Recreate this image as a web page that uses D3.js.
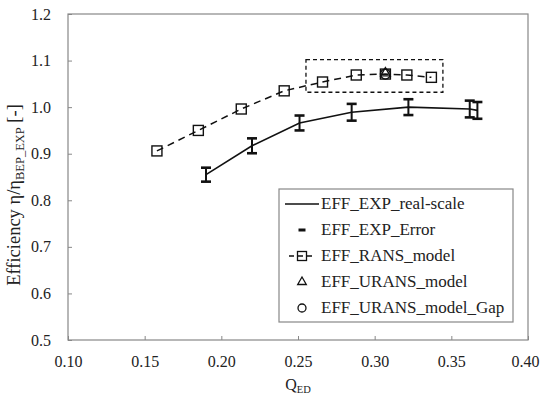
<!DOCTYPE html>
<html>
<head>
<meta charset="utf-8">
<script src="https://cdn.jsdelivr.net/npm/d3@7.9.0/dist/d3.min.js"></script>
<style>
  body { margin: 0; background: #fff; }
</style>
</head>
<body>
<div id="chart"></div>
<script>
// experiment (real scale) with error bars
const expQ = [0.190, 0.220, 0.251, 0.285, 0.322, 0.362, 0.367];
const expEff = [0.855, 0.917, 0.966, 0.989, 1.000, 0.996, 0.993];
const expErr = [0.015, 0.016, 0.016, 0.018, 0.017, 0.018, 0.018];

// RANS model
const ransQ = [0.158, 0.185, 0.213, 0.241, 0.266, 0.288, 0.307, 0.321, 0.337];
const ransEff = [0.906, 0.950, 0.996, 1.035, 1.054, 1.069, 1.071, 1.069, 1.064];

// URANS single points
const uransQ = [0.307];
const uransEff = [1.071];
const gapQ = [0.307];
const gapEff = [1.071];

// dashed highlight box (data units)
const boxQ = [0.2552, 0.3445];
const boxEff = [1.032, 1.102];

const xTicks = [0.10, 0.15, 0.20, 0.25, 0.30, 0.35, 0.40];
const yTicks = [0.5, 0.6, 0.7, 0.8, 0.9, 1.0, 1.1, 1.2];

const legendLabels = ["EFF_EXP_real-scale", "EFF_EXP_Error", "EFF_RANS_model", "EFF_URANS_model", "EFF_URANS_model_Gap"];

const width = 540, height = 397;
const margin = { top: 14, right: 12, bottom: 57, left: 68 };
const serif = "Liberation Serif";

const svg = d3.select("#chart").append("svg")
  .attr("width", width)
  .attr("height", height)
  .attr("font-family", serif);

const x = d3.scaleLinear().domain([0.1, 0.4]).range([margin.left, width - margin.right]);
const y = d3.scaleLinear().domain([0.5, 1.2]).range([height - margin.bottom, margin.top]);

const axisColor = "#888";
const textColor = "#222";

// axes (ticks point inward)
const gx = svg.append("g")
  .attr("transform", `translate(0,${y(0.5)})`)
  .call(d3.axisBottom(x).tickValues(xTicks).tickSizeInner(-4).tickSizeOuter(0).tickPadding(16).tickFormat(d3.format(".2f")));
const gy = svg.append("g")
  .attr("transform", `translate(${x(0.1)},0)`)
  .call(d3.axisLeft(y).tickValues(yTicks).tickSizeInner(-4).tickSizeOuter(0).tickPadding(17).tickFormat(d3.format(".1f")));

[gx, gy].forEach(g => {
  g.attr("font-family", serif).attr("font-size", 16);
  g.select(".domain").remove();
  g.selectAll("line").attr("stroke", axisColor);
  g.selectAll("text").attr("fill", textColor).attr("font-family", serif);
});
// last x label sits on the right edge, keep it inside
gx.selectAll(".tick text").filter(d => d === 0.40).attr("dx", -3);

// frame
svg.append("rect")
  .attr("x", x(0.1)).attr("y", y(1.2))
  .attr("width", x(0.4) - x(0.1)).attr("height", y(0.5) - y(1.2))
  .attr("fill", "none").attr("stroke", axisColor).attr("stroke-width", 1.2);

// dashed highlight box
svg.append("rect")
  .attr("x", x(boxQ[0])).attr("y", y(boxEff[1]))
  .attr("width", x(boxQ[1]) - x(boxQ[0])).attr("height", y(boxEff[0]) - y(boxEff[1]))
  .attr("fill", "none").attr("stroke", "#111").attr("stroke-width", 1.3)
  .attr("stroke-dasharray", "4,3");

// RANS dashed line + square markers
const ransData = ransQ.map((q, i) => ({ q, e: ransEff[i] }));
svg.append("path")
  .datum(ransData)
  .attr("fill", "none").attr("stroke", "#111").attr("stroke-width", 1.5)
  .attr("stroke-dasharray", "7,5")
  .attr("d", d3.line().x(d => x(d.q)).y(d => y(d.e)));

const sq = 10;
svg.append("g").selectAll("rect")
  .data(ransData)
  .join("rect")
  .attr("x", d => x(d.q) - sq / 2).attr("y", d => y(d.e) - sq / 2)
  .attr("width", sq).attr("height", sq)
  .attr("fill", "none").attr("stroke", "#111").attr("stroke-width", 1.4);

// URANS triangle + gap circle
const triangle = d3.symbol().type(d3.symbolTriangle).size(40);
svg.append("g").selectAll("path")
  .data(uransQ.map((q, i) => ({ q, e: uransEff[i] })))
  .join("path")
  .attr("transform", d => `translate(${x(d.q)},${y(d.e) - 1})`)
  .attr("d", triangle)
  .attr("fill", "none").attr("stroke", "#111").attr("stroke-width", 1.4);
svg.append("g").selectAll("circle")
  .data(gapQ.map((q, i) => ({ q, e: gapEff[i] })))
  .join("circle")
  .attr("cx", d => x(d.q)).attr("cy", d => y(d.e)).attr("r", 5)
  .attr("fill", "none").attr("stroke", "#111").attr("stroke-width", 1.4);

// experiment solid line + error bars
const expData = expQ.map((q, i) => ({ q, e: expEff[i], err: expErr[i] }));
svg.append("path")
  .datum(expData)
  .attr("fill", "none").attr("stroke", "#111").attr("stroke-width", 1.6)
  .attr("d", d3.line().x(d => x(d.q)).y(d => y(d.e)));

const bars = svg.append("g").attr("stroke", "#111");
const cap = 5;
expData.forEach(d => {
  bars.append("line")
    .attr("x1", x(d.q)).attr("x2", x(d.q))
    .attr("y1", y(d.e - d.err)).attr("y2", y(d.e + d.err))
    .attr("stroke-width", 2);
  [d.e - d.err, d.e + d.err].forEach(v => {
    bars.append("line")
      .attr("x1", x(d.q) - cap).attr("x2", x(d.q) + cap)
      .attr("y1", y(v)).attr("y2", y(v))
      .attr("stroke-width", 2.6);
  });
});

// axis titles
const yTitle = svg.append("text")
  .attr("transform", "translate(20,195) rotate(-90)")
  .attr("text-anchor", "middle")
  .attr("fill", textColor)
  .attr("font-family", serif)
  .attr("font-size", 18.5);
yTitle.append("tspan").text("Efficiency η/η");
yTitle.append("tspan").attr("dy", 3.5).attr("font-size", 12.5).text("BEP_EXP");
yTitle.append("tspan").attr("dy", -3.5).text(" [-]");

const xTitle = svg.append("text")
  .attr("x", 298).attr("y", 390)
  .attr("text-anchor", "middle")
  .attr("fill", textColor)
  .attr("font-family", serif)
  .attr("font-size", 16);
xTitle.append("tspan").text("Q");
xTitle.append("tspan").attr("dy", 3).attr("font-size", 10.5).text("ED");

// legend
const lg = svg.append("g").attr("transform", "translate(279,189)");
lg.append("rect")
  .attr("width", 234).attr("height", 133)
  .attr("fill", "#fff").attr("stroke", axisColor).attr("stroke-width", 1.2);

const rowY = i => 20 + i * 26;
legendLabels.forEach((label, i) => {
  lg.append("text")
    .attr("x", 42).attr("y", rowY(i))
    .attr("fill", textColor)
    .attr("font-family", serif)
    .attr("font-size", 17)
    .text(label);
});
const sx = 23;
// row 0: solid line
lg.append("line").attr("x1", 6).attr("x2", 40).attr("y1", rowY(0) - 5).attr("y2", rowY(0) - 5)
  .attr("stroke", "#111").attr("stroke-width", 1.6);
// row 1: error bar cap
lg.append("line").attr("x1", sx - 3.5).attr("x2", sx + 3.5).attr("y1", rowY(1) - 5).attr("y2", rowY(1) - 5)
  .attr("stroke", "#111").attr("stroke-width", 3);
// row 2: dashed with square
lg.append("line").attr("x1", 10).attr("x2", 36).attr("y1", rowY(2) - 5).attr("y2", rowY(2) - 5)
  .attr("stroke", "#111").attr("stroke-width", 1.5).attr("stroke-dasharray", "5,4");
lg.append("rect").attr("x", sx - 4.5).attr("y", rowY(2) - 9.5).attr("width", 9).attr("height", 9)
  .attr("fill", "none").attr("stroke", "#111").attr("stroke-width", 1.3);
// row 3: triangle
lg.append("path").attr("transform", `translate(${sx},${rowY(3) - 5})`)
  .attr("d", d3.symbol().type(d3.symbolTriangle).size(32))
  .attr("fill", "none").attr("stroke", "#111").attr("stroke-width", 1.3);
// row 4: circle
lg.append("circle").attr("cx", sx).attr("cy", rowY(4) - 5).attr("r", 4)
  .attr("fill", "none").attr("stroke", "#111").attr("stroke-width", 1.3);
</script>
</body>
</html>
